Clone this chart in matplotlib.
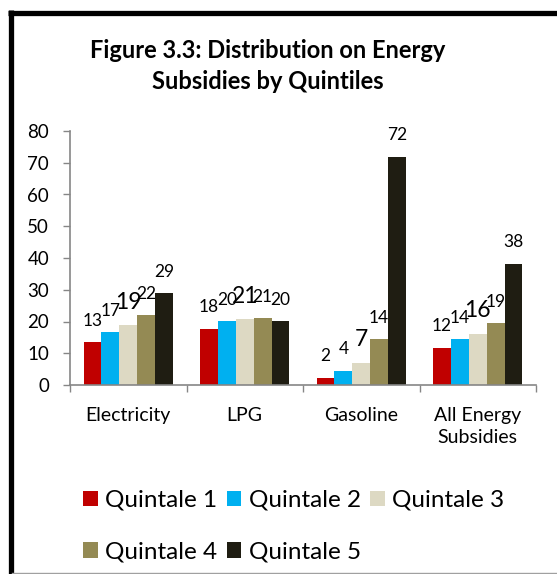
import matplotlib
matplotlib.use("Agg")
import matplotlib.pyplot as plt
from matplotlib.lines import Line2D
from matplotlib.patches import Patch
import numpy as np

plt.rcParams['font.family'] = ['Lato', 'DejaVu Sans']

categories = ["Electricity", "LPG", "Gasoline", "All Energy\nSubsidies"]
series_names = ["Quintale 1", "Quintale 2", "Quintale 3", "Quintale 4", "Quintale 5"]
q1 = [13.4, 17.6, 2.3, 11.8]
q2 = [16.6, 20.1, 4.4, 14.4]
q3 = [18.8, 20.7, 6.9, 16.2]
q4 = [21.9, 21.0, 14.4, 19.4]
q5 = [28.9, 20.1, 71.8, 38.1]
series_values = [q1, q2, q3, q4, q5]
colors = ["#C00000", "#00B0F0", "#DDD9C3", "#948A54", "#1F1D12"]
label_sizes = [12.5, 12.5, 16.5, 12.5, 12.5]
y_ticks = [0, 10, 20, 30, 40, 50, 60, 70, 80]

W, H = 557, 574
fig = plt.figure(figsize=(W / 100, H / 100), dpi=100)
ax = fig.add_axes([70 / W, 1 - 385 / H, (536 - 70) / W, (385 - 131) / H])

x = np.arange(len(categories))
bw = 0.1535
for i, (vals, col) in enumerate(zip(series_values, colors)):
    bars = ax.bar(x + (i - 2) * bw, vals, width=bw, color=col, label=series_names[i], zorder=2)
    for b, v in zip(bars, vals):
        ax.annotate(f"{v:.0f}", (b.get_x() + b.get_width() / 2, v),
                    xytext=(0, 12), textcoords="offset points",
                    ha="center", va="baseline", fontsize=label_sizes[i], color="black")

ax.set_xlim(-0.5, 3.5)
ax.set_ylim(0, 80)
ax.set_yticks(y_ticks)
ax.tick_params(axis="y", labelsize=13.5, length=5, width=1, color="#868686", pad=10)
ax.set_xticks(x)
ax.set_xticklabels(categories, fontsize=14, linespacing=1.35)
ax.tick_params(axis="x", which="major", length=0, pad=16)
ax.set_xticks(np.arange(-0.5, 4.0, 1.0), minor=True)
ax.tick_params(axis="x", which="minor", length=5, width=1, color="#868686", direction="out")
for s in ("top", "right"):
    ax.spines[s].set_visible(False)
for s in ("left", "bottom"):
    ax.spines[s].set_color("#868686")
    ax.spines[s].set_linewidth(1.2)

title_x = 0.5 * (92 + 443) / W
fig.text(title_x, 1 - 58 / H, "Figure 3.3: Distribution on Energy",
         ha="center", va="baseline", fontsize=17, fontweight="bold")
fig.text(title_x, 1 - 89 / H, "Subsidies by Quintiles",
         ha="center", va="baseline", fontsize=17, fontweight="bold")

handles = [Patch(facecolor=c, edgecolor="none") for c in colors]
order = [0, 3, 1, 4, 2]
fig.legend([handles[k] for k in order], [series_names[k] for k in order],
           ncol=3, loc="upper left", bbox_to_anchor=(83 / W, 1 - 490 / H),
           frameon=False, fontsize=17.5, handlelength=0.6, handleheight=0.6,
           handletextpad=0.3, columnspacing=0.4, labelspacing=1.25,
           borderpad=0, borderaxespad=0)

# frame: heavy top and left edges, light bottom edge
fig.add_artist(Line2D([8 / W, 1], [1 - 12.5 / H] * 2, color="black", lw=3.8,
                      transform=fig.transFigure, solid_capstyle="butt"))
fig.add_artist(Line2D([10.5 / W] * 2, [0, 1 - 10 / H], color="black", lw=3.8,
                      transform=fig.transFigure, solid_capstyle="butt"))
fig.add_artist(Line2D([12 / W, 1], [1 - 572.5 / H] * 2, color="#A0A0A0", lw=1.0,
                      transform=fig.transFigure))

fig.savefig("out.png", dpi=100)
